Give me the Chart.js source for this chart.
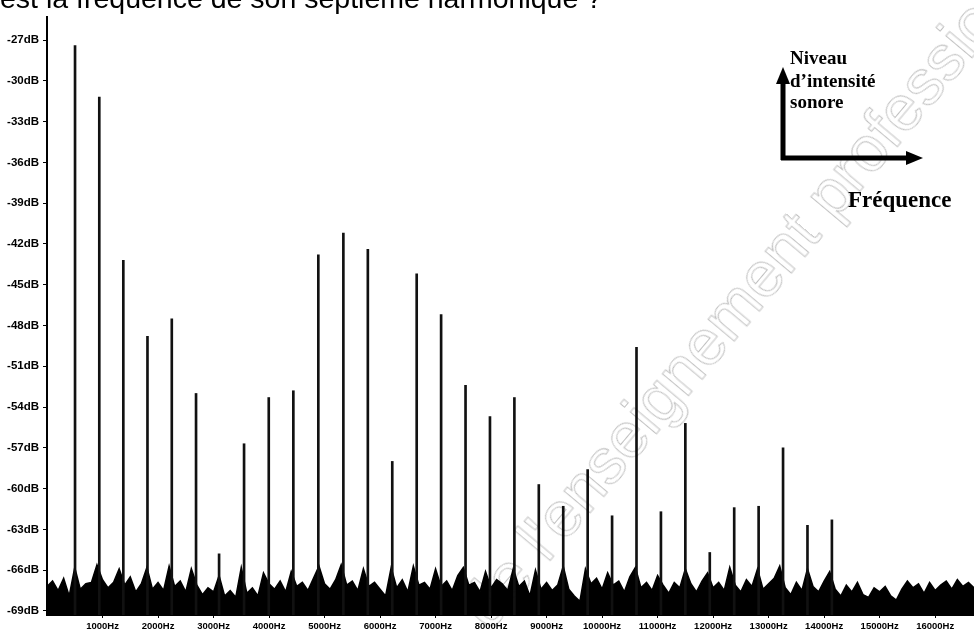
<!DOCTYPE html>
<html>
<head>
<meta charset="utf-8">
<script src="https://cdn.jsdelivr.net/npm/chart.js@4.4.1/dist/chart.umd.min.js"></script>
<style>
  body { margin: 0; background: #fff; overflow: hidden; }
  #wrap { position: relative; width: 974px; height: 636px; overflow: hidden; }
  #spectre { position: absolute; left: 0; top: 0; }
  #question { position: absolute; left: 0px; top: -16px; font: 28.5px "Liberation Sans", Arial, sans-serif; line-height: 1; white-space: nowrap; color: #000; z-index: 2; }
  #filigrane { position: absolute; left: 445px; top: 594px; font: 64px "Liberation Sans", Arial, sans-serif; white-space: nowrap; color: transparent; -webkit-text-stroke: 1px rgba(0,0,0,0.25); transform-origin: 0 0; transform: rotate(-50deg); z-index: 3; pointer-events: none; }
</style>
</head>
<body>
<div id="wrap">
  <div id="question">est la fréquence de son septième harmonique ?</div>
  <canvas id="spectre" width="974" height="636"></canvas>
  <div id="filigrane">de l'enseignement professionnel</div>
</div>
<script>
var peakFreq = [505, 942, 1375, 1810, 2248, 2685, 3100, 3550, 3995, 4438, 4888, 5339,
                5780, 6220, 6660, 7100, 7540, 7980, 8420, 8860, 9300, 9740, 10180, 10620,
                11060, 11500, 11940, 12380, 12820, 13260, 13700, 14140];
var peakDb = [-27.4, -31.2, -43.2, -48.8, -47.5, -53.0, -64.8, -56.7, -53.3, -52.8, -42.8, -41.2,
              -42.4, -58.0, -44.2, -47.2, -52.4, -54.7, -53.3, -59.7, -61.3, -58.6, -62.0, -49.6,
              -61.7, -55.2, -64.7, -61.4, -61.3, -57.0, -62.7, -62.3];

// bruit de fond, un point tous les 100 Hz
var noiseStep = 100;
var noiseDb = [
  -67.2, -66.8, -67.5, -66.6, -67.9, -65.8, -67.4, -67.0, -66.9, -65.6,
  -66.7, -67.3, -66.9, -65.9, -67.1, -66.5, -67.6, -67.0, -65.8, -67.4,
  -66.9, -67.5, -65.7, -67.2, -66.8, -67.6, -65.9, -67.1, -67.8, -67.3,
  -67.6, -66.4, -67.9, -67.5, -68.0, -65.8, -67.7, -67.3, -67.9, -66.2,
  -67.0, -67.4, -66.8, -67.6, -66.1, -67.2, -66.9, -67.5, -66.6, -65.7,
  -67.0, -67.4, -66.7, -65.6, -67.1, -66.8, -67.5, -65.9, -67.2, -66.9,
  -67.4, -67.9, -65.8, -67.3, -66.7, -67.6, -65.7, -67.1, -66.9, -67.4,
  -65.9, -67.2, -66.8, -67.5, -66.4, -65.8, -67.1, -66.9, -67.6, -66.1,
  -67.3, -66.7, -67.0, -67.5, -65.9, -67.2, -66.8, -67.9, -66.0, -67.4,
  -66.9, -67.5, -67.1, -65.7, -67.4, -67.9, -68.3, -65.9, -67.0, -66.6,
  -67.4, -66.2, -67.1, -66.8, -67.6, -66.5, -65.8, -67.3, -66.9, -67.5,
  -66.4, -67.1, -67.7, -66.9, -67.3, -65.9, -67.0, -67.6, -66.8, -66.2,
  -67.3, -66.9, -67.5, -65.8, -67.1, -67.6, -66.7, -67.2, -65.9, -67.4,
  -67.0, -66.6, -65.7, -67.3, -67.8, -66.9, -67.5, -65.9, -67.2, -67.6,
  -66.8, -66.1, -67.4, -67.9, -67.1, -67.6, -66.9, -67.8, -68.0, -67.3,
  -67.6, -67.2, -67.9, -68.2, -67.4, -66.8, -67.3, -67.0, -67.7, -66.9,
  -67.5, -67.1, -66.8, -67.4, -66.7, -67.2, -66.9, -67.3
];

// graduations
var freqTicks = [1000, 2000, 3000, 4000, 5000, 6000, 7000, 8000, 9000, 10000,
                 11000, 12000, 13000, 14000, 15000, 16000];
var dbTicks = [-69, -66, -63, -60, -57, -54, -51, -48, -45, -42, -39, -36, -33, -30, -27];

var dbMin = -69.3, dbMax = -25.3;
var fMax = 16700;

var peaks = [];
for (var i = 0; i < peakFreq.length; i++) {
  peaks.push({ x: peakFreq[i], y: [dbMin, peakDb[i]] });
}
var noise = [];
for (var j = 0; j < noiseDb.length; j++) {
  noise.push({ x: j * noiseStep, y: noiseDb[j] });
}

// flèches + légende des axes
var legende = {
  id: 'legende',
  afterDraw: function (chart) {
    var ctx = chart.ctx;
    ctx.save();
    ctx.fillStyle = '#000';
    ctx.strokeStyle = '#000';
    ctx.font = 'bold 19px "Liberation Serif", "Times New Roman", serif';
    ctx.textBaseline = 'alphabetic';
    ctx.fillText('Niveau', 790, 64);
    ctx.fillText('d\u2019intensité', 790, 87);
    ctx.fillText('sonore', 790, 108);
    ctx.font = 'bold 23px "Liberation Serif", "Times New Roman", serif';
    ctx.fillText('Fréquence', 848, 207);

    ctx.lineWidth = 5;
    ctx.lineCap = 'butt';
    ctx.beginPath();
    ctx.moveTo(783, 160);
    ctx.lineTo(783, 80);
    ctx.moveTo(781, 158);
    ctx.lineTo(910, 158);
    ctx.stroke();
    ctx.beginPath();
    ctx.moveTo(783, 67);
    ctx.lineTo(776, 84);
    ctx.lineTo(790, 84);
    ctx.closePath();
    ctx.fill();
    ctx.beginPath();
    ctx.moveTo(923, 158);
    ctx.lineTo(906, 151);
    ctx.lineTo(906, 165);
    ctx.closePath();
    ctx.fill();
    ctx.restore();
  }
};

var ctx = document.getElementById('spectre');
var spectre = new Chart(ctx, {
  type: 'line',
  data: {
    datasets: [{
      type: 'bar',
      data: peaks,
      backgroundColor: '#111',
      borderWidth: 0,
      barThickness: 2,
      order: 1
    }, {
      type: 'line',
      data: noise,
      borderColor: '#000',
      backgroundColor: '#000',
      borderWidth: 1.5,
      pointRadius: 0,
      tension: 0,
      fill: 'start',
      order: 2
    }]
  },
  options: {
    responsive: false,
    animation: false,
    devicePixelRatio: 1,
    layout: { padding: { top: 17, right: 0, bottom: 0, left: 0 } },
    plugins: { legend: { display: false }, tooltip: { enabled: false } },
    scales: {
      x: {
        type: 'linear',
        min: 0,
        max: fMax,
        offset: false,
        grid: { drawOnChartArea: false, drawTicks: true, tickLength: 3, color: '#000', offset: false },
        border: { display: true, color: '#000', width: 1 },
        ticks: {
          autoSkip: false,
          maxRotation: 0,
          minRotation: 0,
          padding: 3,
          color: '#000',
          font: { family: '"Liberation Sans", Arial, sans-serif', size: 9.5, weight: 'bold' },
          callback: function (v) { return v + 'Hz'; }
        },
        afterBuildTicks: function (scale) {
          scale.ticks = freqTicks.map(function (v) { return { value: v }; });
        },
        afterFit: function (scale) { scale.height = 21; }
      },
      y: {
        type: 'linear',
        min: dbMin,
        max: dbMax,
        grid: { drawOnChartArea: false, drawTicks: true, tickLength: 4, color: '#000' },
        border: { display: true, color: '#000', width: 2 },
        ticks: {
          padding: 4,
          color: '#000',
          font: { family: '"Liberation Sans", Arial, sans-serif', size: 11.5, weight: 'bold' },
          callback: function (v) { return v + 'dB'; }
        },
        afterBuildTicks: function (scale) {
          scale.ticks = dbTicks.map(function (v) { return { value: v }; });
        },
        afterFit: function (scale) { scale.width = 47; }
      }
    }
  },
  plugins: [legende]
});
</script>
</body>
</html>
